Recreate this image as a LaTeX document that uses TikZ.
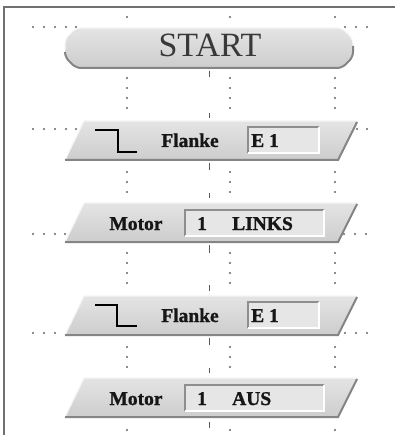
\documentclass[tikz,border=0pt]{standalone}
\usepackage{fontspec}
\setmainfont{Liberation Serif}
\newfontfamily\heavyfont[FakeBold=1.2]{Liberation Serif Bold}
\definecolor{boxtop}{HTML}{E4E4E4}
\definecolor{boxbot}{HTML}{CDCDCD}
\definecolor{edgedark}{HTML}{858585}
\definecolor{edgelight}{HTML}{F6F6F6}
\definecolor{fieldfill}{HTML}{E6E6E6}
\definecolor{fielddark}{HTML}{8E8E8E}
\definecolor{dotc}{HTML}{666666}
\definecolor{framec}{HTML}{707070}
\definecolor{txt}{HTML}{161616}
\definecolor{connc}{HTML}{5A5A5A}
\newcommand\skewbox[1]{%
  \shade[top color=boxtop,bottom color=boxbot] (84,#1) -- (357,#1) -- (338,{#1+39}) -- (65,{#1+39}) -- cycle;
  \draw[line width=1.2pt,edgelight] (65,{#1+39}) -- (84,#1) -- (357,#1);
  \draw[line width=2pt,edgedark] (357,{#1+1}) -- (338,{#1+39}) -- (65,{#1+39});
}
\newcommand\fieldbox[3]{% x1, x2, top y ; height 26
  \fill[fieldfill] (#1,#3) rectangle (#2,{#3+26});
  \draw[line width=1.4pt,fielddark] (#1,{#3+26}) -- (#1,#3) -- (#2,#3);
  \draw[line width=1.4pt,white] (#2,#3) -- (#2,{#3+26}) -- (#1,{#3+26});
}
\begin{document}
\begin{tikzpicture}[x=1pt,y=-1pt,
  lbl/.style={inner sep=0pt,anchor=base,text=txt,font=\fontsize{19.5}{19.5}\heavyfont},
  lbll/.style={lbl,anchor=base west},
  conn/.style={draw=connc,line width=1pt},
  edge/.style={draw=black,line width=1.6pt}]
\useasboundingbox (0,0) rectangle (395,435);
\fill[white] (0,0) rectangle (395,435);
% frame
\draw[framec,line width=1.5pt] (4,435) -- (4,7) -- (395,7);
% dot grid
\foreach \y in {17,78,88,98,108,172,182,192,253,263,273,283,347,357,367,430}
  \foreach \x in {127,230,335} \fill[dotc] (\x,\y) circle (1.1);
\foreach \x in {33,44,55,66,76} \fill[dotc] (\x,27) circle (1.1);
\foreach \x in {345,356,367} \fill[dotc] (\x,27) circle (1.1);
\foreach \x in {33,44,55,66,76} \fill[dotc] (\x,129) circle (1.1);
\foreach \x in {357,367} \fill[dotc] (\x,129) circle (1.1);
\foreach \x in {33,44,55,65} \fill[dotc] (\x,234) circle (1.1);
\foreach \x in {344,355,366} \fill[dotc] (\x,234) circle (1.1);
\foreach \x in {33,44,55} \fill[dotc] (\x,333) circle (1.1);
\foreach \x in {345,356,367} \fill[dotc] (\x,333) circle (1.1);
% START
\shade[top color=boxtop,bottom color=boxbot,rounded corners=5pt]
  (76,28) -- (342,28) -- (353,39) -- (353,57) -- (342,68) -- (76,68) -- (65,57) -- (65,39) -- cycle;
\draw[line width=1.2pt,edgelight,rounded corners=5pt] (65,50) -- (65,39) -- (76,28) -- (342,28) -- (353,39) -- (353,46);
\draw[line width=2pt,edgedark,rounded corners=5pt] (353,46) -- (353,57) -- (342,68) -- (76,68) -- (65,57) -- (65,52);
\node[inner sep=0pt,anchor=base,text=txt!85,font=\fontsize{34}{34}\selectfont] (start) at (210,57) {START};
% Flanke 1
\skewbox{121}
\draw[edge] (95,130) -- (118,130) -- (118,152) -- (137,152);
\node[lbl] (fl1) at (190,147) {Flanke};
\fieldbox{248}{319}{127}
\node[lbll] (e1a) at (251,147) {E 1};
% Motor 1 LINKS
\skewbox{203}
\node[lbl] (mo1) at (136,230) {Motor};
\fieldbox{185}{324}{210}
\node[lbll] (n1a) at (197,230) {1};
\node[lbll] (links) at (232,230) {LINKS};
% Flanke 2
\skewbox{296}
\draw[edge] (95,305) -- (117,305) -- (117,326) -- (137,326);
\node[lbl] (fl2) at (190,322) {Flanke};
\fieldbox{248}{319}{302}
\node[lbll] (e1b) at (251,322) {E 1};
% Motor 1 AUS
\skewbox{378}
\node[lbl] (mo2) at (136,405) {Motor};
\fieldbox{185}{324}{385}
\node[lbll] (n1b) at (197,405) {1};
\node[lbll] (aus) at (232,405) {AUS};
% connector anchor coordinates
\coordinate (sb) at (209,68);
\coordinate (f1t) at (209,121);
\coordinate (f1b) at (209,160);
\coordinate (m1t) at (209,203);
\coordinate (m1b) at (209,243);
\coordinate (f2t) at (209,296);
\coordinate (f2b) at (209,336);
\coordinate (m2t) at (209,378);
\coordinate (m2b) at (209,418);
\draw[conn] ([yshift=-3pt]sb) -- ([yshift=-9pt]sb);
\draw[conn] ([yshift=3pt]f1t) -- ([yshift=8pt]f1t);
\draw[conn] ([yshift=-3pt]f1b) -- ([yshift=-10pt]f1b);
\draw[conn] ([yshift=5pt]m1t) -- ([yshift=10pt]m1t);
\draw[conn] ([yshift=-2pt]m1b) -- ([yshift=-10pt]m1b);
\draw[conn] ([yshift=5pt]f2t) -- ([yshift=11pt]f2t);
\draw[conn] ([yshift=-2pt]f2b) -- ([yshift=-9pt]f2b);
\draw[conn] ([yshift=5pt]m2t) -- ([yshift=10pt]m2t);
\draw[conn] ([yshift=-4pt]m2b) -- ([yshift=-10pt]m2b);
\end{tikzpicture}
\end{document}
